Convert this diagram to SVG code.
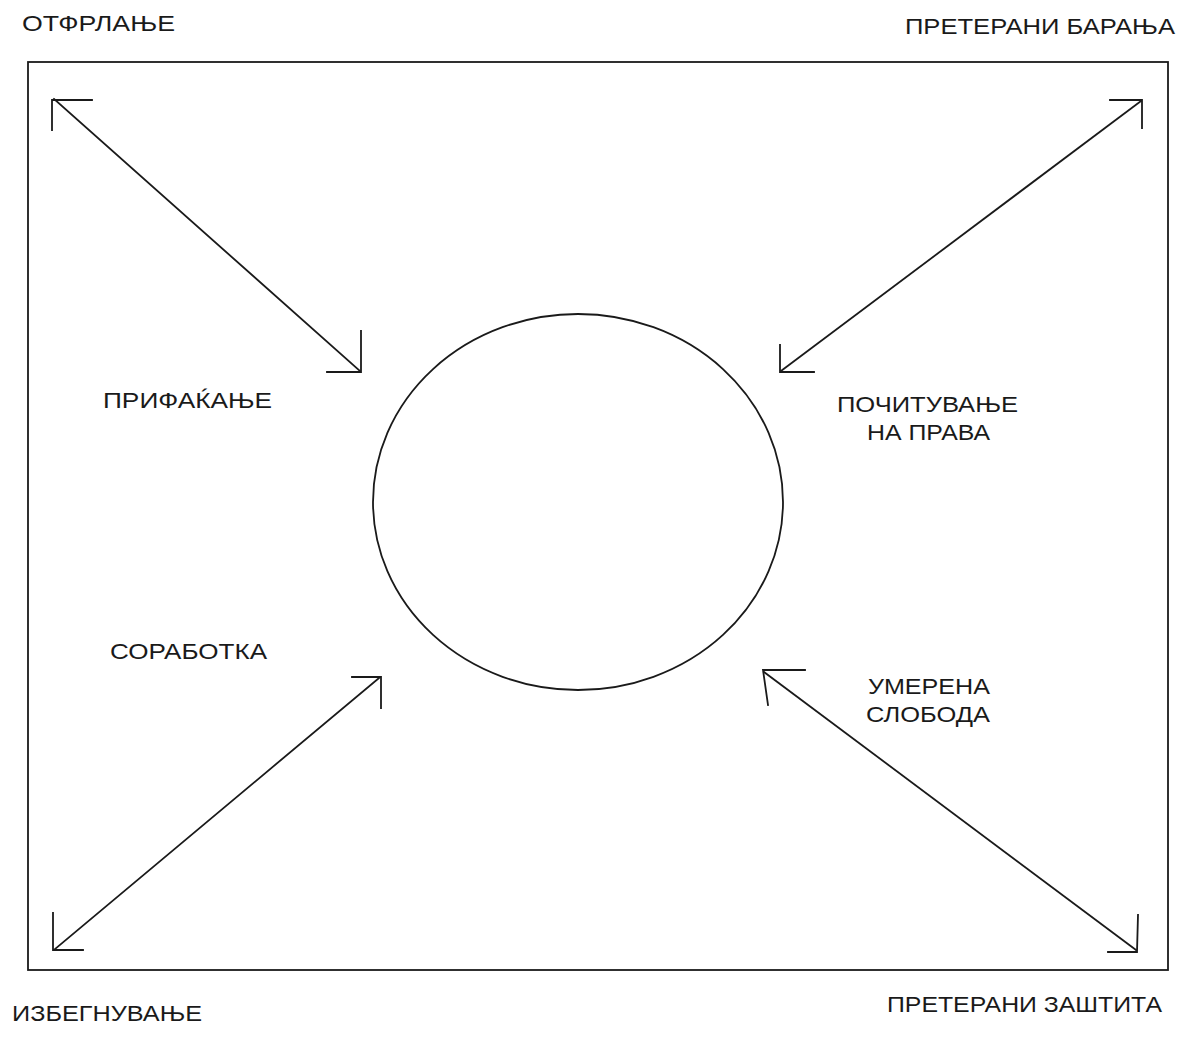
<svg xmlns="http://www.w3.org/2000/svg" width="1186" height="1038" viewBox="0 0 1186 1038">
<style>
.ln{fill:none;stroke:#1a1a1a;stroke-width:1.8;stroke-linecap:square}
.t{font-family:"Liberation Sans",Arial,sans-serif;font-size:22px;fill:#1a1a1a}
</style>
<rect width="1186" height="1038" fill="#fff"/>
<g id="frame"><rect class="ln" x="28" y="62" width="1140" height="908"/></g>
<g id="center"><ellipse class="ln" cx="578" cy="502" rx="205" ry="188"/></g>
<g id="connectors">
<g id="arrow-tl">
<line class="ln" x1="54" y1="99" x2="360" y2="371"/>
<polyline class="ln" points="52,130 52,100 92,100"/>
<polyline class="ln" points="361,331 361,372 327,372"/>
</g>
<g id="arrow-tr">
<line class="ln" x1="1141" y1="101" x2="781" y2="371"/>
<polyline class="ln" points="1110,100 1142,100 1142,128"/>
<polyline class="ln" points="780,345 780,372 814,372"/>
</g>
<g id="arrow-bl">
<line class="ln" x1="379" y1="678" x2="55" y2="949"/>
<polyline class="ln" points="352,677 381,677 381,708"/>
<polyline class="ln" points="53,913 53,950 83,950"/>
</g>
<g id="arrow-br">
<line class="ln" x1="764" y1="672" x2="1136" y2="950"/>
<polyline class="ln" points="805,670 763,670 768,705"/>
<polyline class="ln" points="1138,915 1137,952 1108,952"/>
</g>
</g>
<g id="labels">
<text class="t" x="22" y="31" textLength="153" lengthAdjust="spacingAndGlyphs">ОТФРЛАЊЕ</text>
<text class="t" x="905" y="34" textLength="270" lengthAdjust="spacingAndGlyphs">ПРЕТЕРАНИ БАРАЊА</text>
<text class="t" x="103" y="408" textLength="169" lengthAdjust="spacingAndGlyphs">ПРИФАЌАЊЕ</text>
<text class="t" x="837" y="412" textLength="181" lengthAdjust="spacingAndGlyphs">ПОЧИТУВАЊЕ</text>
<text class="t" x="867" y="440" textLength="123" lengthAdjust="spacingAndGlyphs">НА ПРАВА</text>
<text class="t" x="110" y="659" textLength="157" lengthAdjust="spacingAndGlyphs">СОРАБОТКА</text>
<text class="t" x="868" y="694" textLength="122" lengthAdjust="spacingAndGlyphs">УМЕРЕНА</text>
<text class="t" x="866" y="722" textLength="124" lengthAdjust="spacingAndGlyphs">СЛОБОДА</text>
<text class="t" x="12" y="1021" textLength="190" lengthAdjust="spacingAndGlyphs">ИЗБЕГНУВАЊЕ</text>
<text class="t" x="887" y="1012" textLength="275" lengthAdjust="spacingAndGlyphs">ПРЕТЕРАНИ ЗАШТИТА</text>
</g>
</svg>
